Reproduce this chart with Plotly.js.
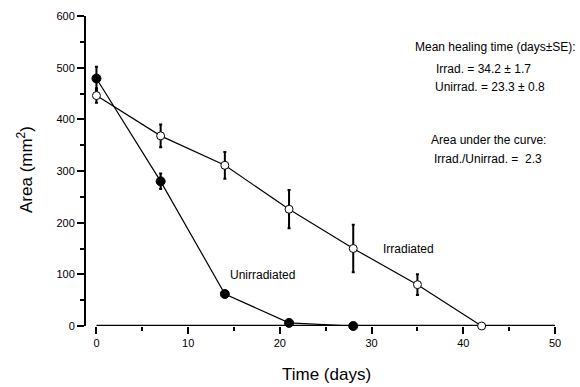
<!DOCTYPE html>
<html>
<head>
<meta charset="utf-8">
<script src="https://cdn.plot.ly/plotly-3.0.1.min.js"></script>
<style>html,body{margin:0;padding:0;background:#fff;}#chart{width:580px;height:387px;}</style>
</head>
<body>
<div id="chart"></div>
<script>
// Data
const days = [0, 7, 14, 21, 28, 35, 42];
const unirrDays = [0, 7, 14, 21, 28];
const unirrArea = [479, 280, 62, 6, 0];
const unirrErr = [23, 15, 0, 0, 0];
const irrDays = [0, 7, 14, 21, 28, 35, 42];
const irrArea = [446, 368, 311, 226, 150, 80, 0];
const irrErr = [14, 22, 26, 37, 46, 20, 0];
const xTicks = [0, 10, 20, 30, 40, 50];
const yTicks = [0, 100, 200, 300, 400, 500, 600];

const W = 580, H = 387;
const L = 86, R = 25, T = 16, B = 61;
const pw = W - L - R, ph = H - T - B;
const fx = p => (p - L) / pw;
const fy = p => (H - B - p) / ph;
const FONT = 'Arial, "Liberation Sans", sans-serif';

const irr = {
  x: irrDays, y: irrArea, type: 'scatter', mode: 'lines+markers',
  line: {color: '#000', width: 1.2},
  marker: {symbol: 'circle', size: 8, color: '#fff', line: {color: '#000', width: 1}},
  error_y: {type: 'data', array: irrErr, visible: true, color: '#000', thickness: 2, width: 1.5},
  cliponaxis: false, showlegend: false, hoverinfo: 'none'
};
const unirr = {
  x: unirrDays, y: unirrArea, type: 'scatter', mode: 'lines+markers',
  line: {color: '#000', width: 1.2},
  marker: {symbol: 'circle', size: 9, color: '#000', line: {color: '#000', width: 1}},
  error_y: {type: 'data', array: unirrErr, visible: true, color: '#000', thickness: 2, width: 1.5},
  cliponaxis: false, showlegend: false, hoverinfo: 'none'
};

const ann = (text, px, py, size, xanchor) => ({
  text: text, xref: 'paper', yref: 'paper', x: fx(px), y: fy(py),
  xanchor: xanchor || 'left', yanchor: 'middle', showarrow: false,
  font: {family: FONT, size: size, color: '#000'}
});

const layout = {
  width: W, height: H,
  margin: {l: L, r: R, t: T, b: B, pad: 0},
  paper_bgcolor: '#fff', plot_bgcolor: '#fff',
  font: {family: FONT, color: '#000'},
  xaxis: {
    range: [-1.14, 50], tickvals: xTicks, ticktext: xTicks.map(String),
    showgrid: false, zeroline: false, showline: false,
    ticks: 'outside', ticklen: 7, tickwidth: 2, tickcolor: '#000',
    minor: {tickvals: [5, 15, 25, 35, 45], ticks: 'outside', ticklen: 4, tickwidth: 2, tickcolor: '#000', showgrid: false},
    tickfont: {family: FONT, size: 11, color: '#000'}
  },
  yaxis: {
    range: [0, 600], tickvals: yTicks, ticktext: yTicks.map(String),
    showgrid: false, zeroline: false, showline: true, linecolor: '#000', linewidth: 2,
    ticks: 'outside', ticklen: 7, tickwidth: 2, tickcolor: '#000',
    minor: {tickvals: [50, 150, 250, 350, 450, 550], ticks: 'outside', ticklen: 4, tickwidth: 2, tickcolor: '#000', showgrid: false},
    tickfont: {family: FONT, size: 11, color: '#000'}
  },
  shapes: [{
    type: 'line', xref: 'x', yref: 'y', x0: 0, x1: 50, y0: 0, y1: 0,
    line: {color: '#000', width: 2.5}, layer: 'below'
  }],
  annotations: [
    ann('Time (days)', 326, 374, 17, 'center'),
    Object.assign(ann('Area (mm<sup>2</sup>)', 25, 170, 17, 'center'), {textangle: -90}),
    ann('Mean healing time (days±SE):', 413, 47, 12),
    ann('Irrad. = 34.2 ± 1.7', 434, 69, 12),
    ann('Unirrad. = 23.3 ± 0.8', 433, 87, 12),
    ann('Area under the curve:', 429, 140, 12),
    ann('Irrad./Unirrad. =  2.3', 432, 159, 12),
    ann('Unirradiated', 262, 275, 12, 'center'),
    ann('Irradiated', 408, 249, 12, 'center')
  ]
};

Plotly.newPlot('chart', [irr, unirr], layout, {staticPlot: true, displayModeBar: false});
</script>
</body>
</html>
